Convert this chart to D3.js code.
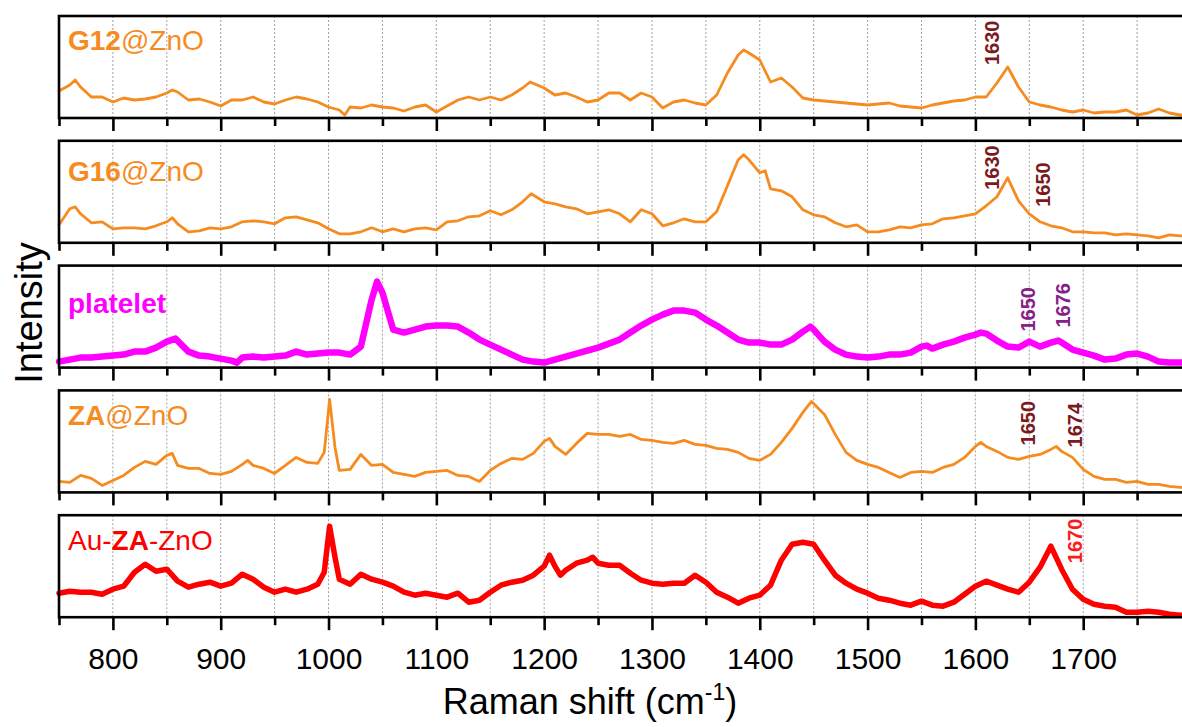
<!DOCTYPE html>
<html>
<head>
<meta charset="utf-8">
<script src="https://cdn.jsdelivr.net/npm/d3@7"></script>
<style>
  body { margin: 0; background: #fff; }
  svg { display: block; font-family: "Liberation Sans", Arial, sans-serif; }
</style>
</head>
<body>
<svg id="chart" width="1182" height="727"></svg>
<script>
// Raman spectra: [shift (cm-1), intensity (a.u., panel units 0-102)]
var g12Spectrum = [[750,27],[760,33],[765,38],[770,31],[780,21],[790,21],[800,16],[810,20],[820,18],[830,19],[840,21],[850,25],[855,28],[860,26],[870,18],[880,19],[890,16],[900,12],[910,18],[920,18],[930,21],[940,16],[950,14],[960,18],[970,21],[980,19],[990,16],[1000,11],[1010,8],[1015,3],[1020,11],[1030,10],[1040,13],[1050,11],[1060,10],[1070,7],[1080,11],[1090,13],[1100,6],[1110,12],[1120,18],[1130,21],[1140,18],[1150,21],[1160,18],[1170,23],[1180,30],[1187,36],[1200,30],[1210,23],[1220,25],[1230,21],[1240,16],[1250,18],[1260,25],[1270,25],[1280,18],[1290,25],[1300,21],[1310,10],[1320,16],[1330,18],[1340,15],[1350,13],[1360,23],[1370,45],[1380,63],[1385,68],[1390,65],[1400,58],[1410,36],[1420,40],[1430,31],[1440,20],[1450,18],[1460,17],[1470,16],[1480,15],[1490,14],[1500,13],[1510,14],[1520,15],[1530,12],[1540,11],[1550,10],[1560,13],[1570,15],[1580,17],[1590,18],[1600,21],[1610,21],[1620,35],[1630,51],[1640,31],[1650,16],[1660,13],[1670,11],[1680,8],[1690,6],[1700,8],[1710,5],[1720,6],[1730,6],[1740,8],[1750,3],[1760,5],[1770,9],[1780,5],[1790,3],[1800,3]];

var g16Spectrum = [[750,18],[760,34],[765,36],[770,29],[780,20],[790,21],[800,14],[810,15],[820,15],[830,14],[840,17],[850,21],[855,25],[860,19],[870,11],[880,12],[890,15],[900,14],[910,16],[920,21],[930,22],[940,21],[950,19],[960,25],[970,26],[980,23],[990,20],[1000,14],[1010,9],[1020,9],[1030,11],[1040,15],[1050,11],[1060,14],[1070,11],[1080,14],[1090,15],[1100,13],[1110,21],[1120,22],[1130,26],[1140,27],[1150,32],[1160,28],[1170,33],[1180,41],[1188,49],[1200,41],[1210,39],[1220,36],[1230,34],[1240,29],[1250,31],[1260,33],[1270,29],[1280,21],[1290,33],[1300,29],[1310,17],[1320,20],[1330,24],[1340,21],[1350,21],[1360,31],[1370,57],[1380,83],[1385,88],[1390,83],[1400,70],[1405,72],[1410,54],[1420,52],[1430,46],[1440,33],[1450,28],[1460,26],[1470,20],[1480,16],[1490,18],[1500,11],[1510,11],[1520,13],[1530,16],[1540,15],[1550,18],[1560,19],[1570,24],[1580,25],[1590,27],[1600,29],[1610,37],[1620,46],[1630,65],[1640,42],[1650,29],[1660,21],[1670,17],[1680,15],[1690,11],[1700,11],[1710,10],[1720,10],[1730,8],[1740,9],[1750,8],[1760,7],[1770,5],[1780,8],[1790,7],[1800,6]];

var plateletSpectrum = [[750,6],[760,8],[770,10],[780,10],[790,11],[800,12],[810,13],[820,16],[830,16],[840,20],[850,26],[858,29],[870,16],[880,12],[890,11],[900,9],[910,7],[915,5],[920,10],[930,11],[940,10],[950,11],[960,12],[970,16],[980,13],[990,14],[1000,15],[1010,15],[1020,13],[1030,21],[1040,68],[1045,86],[1050,75],[1060,38],[1070,35],[1080,38],[1090,41],[1100,42],[1110,42],[1120,41],[1130,35],[1140,28],[1150,23],[1160,18],[1170,13],[1180,8],[1190,6],[1200,5],[1210,8],[1220,11],[1230,14],[1240,17],[1250,20],[1260,24],[1270,28],[1280,35],[1290,42],[1300,48],[1310,53],[1320,57],[1330,57],[1340,55],[1350,48],[1360,42],[1370,35],[1380,28],[1390,25],[1400,25],[1410,23],[1420,23],[1430,28],[1440,36],[1447,41],[1450,38],[1460,26],[1470,18],[1480,13],[1490,11],[1500,10],[1510,11],[1520,13],[1530,13],[1540,15],[1550,21],[1555,22],[1560,19],[1570,23],[1580,26],[1590,30],[1600,33],[1605,35],[1610,34],[1620,27],[1630,21],[1640,20],[1650,26],[1660,21],[1670,25],[1677,27],[1680,25],[1690,18],[1700,15],[1710,12],[1720,8],[1730,9],[1740,13],[1750,14],[1760,11],[1770,6],[1780,5],[1790,5],[1800,5]];

var zaSpectrum = [[750,11],[760,10],[770,17],[780,14],[790,7],[800,12],[810,17],[820,25],[830,31],[840,28],[850,37],[855,39],[860,27],[870,24],[880,24],[890,19],[900,18],[910,21],[920,28],[925,32],[930,27],[940,24],[950,19],[960,27],[970,35],[980,30],[990,29],[996,40],[1001,93],[1006,45],[1010,22],[1020,23],[1030,38],[1040,27],[1050,28],[1060,20],[1070,18],[1080,16],[1090,20],[1100,21],[1110,22],[1120,17],[1130,16],[1140,11],[1150,22],[1160,29],[1170,34],[1180,33],[1190,39],[1200,51],[1205,54],[1210,46],[1220,38],[1230,49],[1240,59],[1250,58],[1260,58],[1270,56],[1280,58],[1290,53],[1300,52],[1310,50],[1320,49],[1330,52],[1340,48],[1350,47],[1360,44],[1370,43],[1380,40],[1390,34],[1400,32],[1410,38],[1420,50],[1430,64],[1440,80],[1448,91],[1460,78],[1470,58],[1480,40],[1490,32],[1500,28],[1510,25],[1520,20],[1530,15],[1540,20],[1550,21],[1560,20],[1570,25],[1580,28],[1590,35],[1600,46],[1605,50],[1610,46],[1620,41],[1630,35],[1640,33],[1650,36],[1660,38],[1670,43],[1675,46],[1680,41],[1690,35],[1700,23],[1710,16],[1720,13],[1730,13],[1740,10],[1750,11],[1760,8],[1770,8],[1780,6],[1790,5],[1800,5]];

var auZaSpectrum = [[750,24],[760,26],[770,25],[780,25],[790,23],[800,28],[810,31],[820,45],[830,53],[840,46],[850,48],[860,36],[870,30],[880,33],[890,35],[900,31],[910,34],[920,43],[930,38],[940,30],[950,25],[960,28],[970,25],[980,28],[990,33],[996,45],[1001,91],[1006,60],[1010,38],[1020,33],[1030,43],[1040,38],[1050,35],[1060,31],[1070,25],[1080,22],[1090,24],[1100,22],[1110,20],[1120,24],[1130,15],[1140,17],[1150,25],[1160,32],[1170,35],[1180,37],[1190,42],[1200,51],[1205,62],[1210,51],[1215,42],[1220,47],[1230,54],[1240,57],[1245,60],[1250,54],[1260,52],[1270,52],[1280,44],[1290,37],[1300,34],[1310,33],[1320,34],[1330,34],[1340,42],[1350,35],[1360,25],[1370,20],[1380,14],[1390,19],[1400,22],[1410,32],[1420,57],[1430,73],[1440,75],[1450,73],[1460,57],[1470,42],[1480,34],[1490,28],[1500,24],[1510,19],[1520,17],[1530,14],[1540,12],[1550,16],[1560,12],[1570,11],[1580,15],[1590,23],[1600,31],[1610,36],[1620,32],[1630,28],[1640,25],[1650,35],[1660,50],[1670,71],[1680,48],[1690,28],[1700,18],[1710,13],[1720,11],[1730,10],[1740,5],[1750,5],[1760,6],[1770,5],[1780,3],[1790,2],[1800,2]];

// sample names: [text, bold?] parts
var sampleNames = [
  [["G12", true], ["@ZnO", false]],
  [["G16", true], ["@ZnO", false]],
  [["platelet", true]],
  [["ZA", true], ["@ZnO", false]],
  [["Au-", false], ["ZA", true], ["-ZnO", false]]
];

// peak labels per panel
var peakLabels = [["1630"], ["1630", "1650"], ["1650", "1676"], ["1650", "1674"], ["1670"]];

var majorTicks = [800, 900, 1000, 1100, 1200, 1300, 1400, 1500, 1600, 1700, 1800];
var minorTicks = [750, 850, 950, 1050, 1150, 1250, 1350, 1450, 1550, 1650, 1750];
var tickLabels = ["800", "900", "1000", "1100", "1200", "1300", "1400", "1500", "1600", "1700", ""];

// ---- layout / style ----
var spectra = [g12Spectrum, g16Spectrum, plateletSpectrum, zaSpectrum, auZaSpectrum];
var lineColors = ["#f68b1f", "#f68b1f", "#ff00ff", "#f68b1f", "#ff0000"];
var lineWidths = [2.8, 2.8, 6.5, 2.8, 5.5];
var peakColors = ["#7a1a1e", "#7a1a1e", "#852089", "#7a1a1e", "#ff1a1a"];
var nameOffsets = [34, 40, 47, 35, 35];
// where each peak label sits: [shift of text baseline, intensity of text start]
var peakPlaces = [[[1622, 53]], [[1622, 53], [1669, 36]], [[1655, 36], [1688, 40]], [[1655, 47], [1699, 45]], [[1699, 54]]];

var left = 59, right = 1191, top0 = 16, step = 124.8, panelH = 102;

var svg = d3.select('#chart');
var x = d3.scaleLinear().domain([750, 1800]).range([left, right]);
var gridTicks = majorTicks.concat(minorTicks).filter(d => d > 750);

spectra.forEach((data, i) => {
  var top = top0 + i * step, bottom = top + panelH;
  var y = d3.scaleLinear().domain([0, 102]).range([bottom, top]);
  var g = svg.append("g");

  g.selectAll("line.grid")
    .data(gridTicks)
    .enter().append("line")
    .attr("class", "grid")
    .attr("x1", d => x(d)).attr("x2", d => x(d))
    .attr("y1", top).attr("y2", bottom)
    .attr("stroke", "#a0a0a0")
    .attr("stroke-width", 1)
    .attr("stroke-dasharray", "2,2");

  g.append("path")
    .datum(data)
    .attr("fill", "none")
    .attr("stroke", lineColors[i])
    .attr("stroke-width", lineWidths[i])
    .attr("stroke-linejoin", "round")
    .attr("stroke-linecap", "round")
    .attr("d", d3.line().x(d => x(d[0])).y(d => y(d[1])));

  g.append("rect")
    .attr("x", left).attr("y", top)
    .attr("width", right - left).attr("height", panelH)
    .attr("fill", "none")
    .attr("stroke", "#000")
    .attr("stroke-width", 2.6);

  var minor = g.append("g")
    .attr("transform", `translate(0,${bottom})`)
    .call(d3.axisBottom(x).tickValues(minorTicks).tickSize(8).tickFormat(""));
  var major = g.append("g")
    .attr("transform", `translate(0,${bottom})`)
    .call(d3.axisBottom(x).tickValues(majorTicks).tickSize(13)
      .tickFormat((d, k) => i === spectra.length - 1 ? tickLabels[k] : ""));
  [minor, major].forEach(ax => {
    ax.select(".domain").remove();
    ax.selectAll(".tick line").attr("stroke", "#000").attr("stroke-width", 2.6);
  });
  major.selectAll(".tick text")
    .attr("y", 31)
    .attr("fill", "#000")
    .style("font-size", "30px")
    .style("font-family", "\"Liberation Sans\", Arial, sans-serif");

  var name = g.append("text")
    .attr("x", 68)
    .attr("y", top + nameOffsets[i])
    .attr("fill", lineColors[i])
    .style("font-size", "28px");
  sampleNames[i].forEach(p => {
    name.append("tspan").attr("font-weight", p[1] ? "bold" : "normal").text(p[0]);
  });

  peakLabels[i].forEach((t, k) => {
    var pl = peakPlaces[i][k];
    g.append("text")
      .attr("transform", `translate(${x(pl[0])},${y(pl[1])}) rotate(-90)`)
      .attr("fill", peakColors[i])
      .attr("font-weight", "bold")
      .style("font-size", "20px")
      .text(t);
  });
});

svg.append("text")
  .attr("transform", "translate(42,313) rotate(-90)")
  .attr("text-anchor", "middle")
  .style("font-size", "38px")
  .text("Intensity");

var xt = svg.append("text")
  .attr("x", 590).attr("y", 714)
  .attr("text-anchor", "middle")
  .style("font-size", "36px");
xt.append("tspan").text("Raman shift (cm");
xt.append("tspan").attr("dy", -14).style("font-size", "23px").text("-1");
xt.append("tspan").attr("dy", 14).text(")");
</script>
</body>
</html>
